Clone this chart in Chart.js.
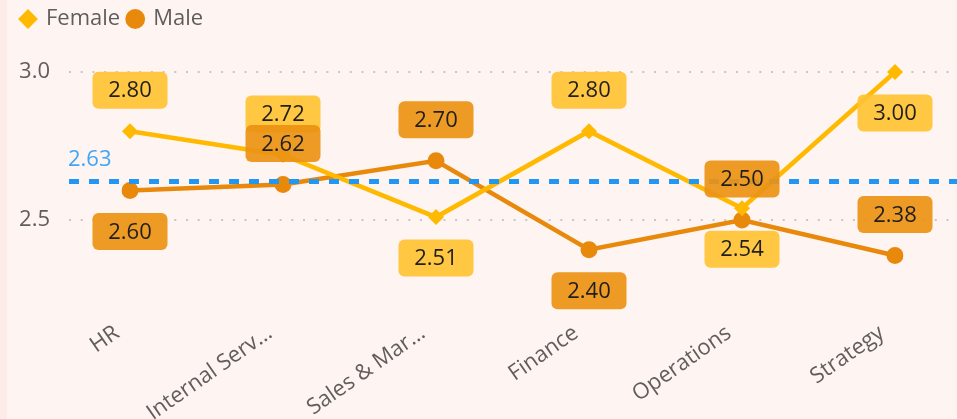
<!DOCTYPE html>
<html>
<head>
<meta charset="utf-8">
<script src="https://cdn.jsdelivr.net/npm/chart.js@4"></script>
<style>
  html, body { margin: 0; padding: 0; }
  body {
    width: 957px; height: 419px; overflow: hidden;
    background: linear-gradient(to right, #fdebe9 0, #fdebe9 7px, #fef4f2 7px);
  }
  #wrap { position: relative; width: 957px; height: 419px; }
</style>
</head>
<body>
<div id="wrap"><canvas id="chart"></canvas></div>
<script>
const categories = ['HR', 'Internal Services', 'Sales & Marketing', 'Finance', 'Operations', 'Strategy'];
const tickLabels = ['HR', 'Internal Serv…', 'Sales & Mar…', 'Finance', 'Operations', 'Strategy'];
const femaleValues = [2.80, 2.72, 2.51, 2.80, 2.54, 3.00];
const maleValues = [2.60, 2.62, 2.70, 2.40, 2.50, 2.38];
const yTicks = [2.5, 3.0];
const averageValue = 2.63;

// which side of its point each data label sits on
const femaleLabelSide = ['above', 'above', 'below', 'above', 'below', 'below'];
const maleLabelSide = ['below', 'above', 'above', 'below', 'above', 'above'];

const FONT = "'Segoe UI', 'Open Sans', sans-serif";
Chart.defaults.font.family = FONT;

function drawLabels(ctx, meta, values, sides, fill) {
    meta.data.forEach((pt, i) => {
        const cy = pt.y + (sides[i] === 'above' ? -41 : 41);
        ctx.fillStyle = fill;
        ctx.beginPath();
        ctx.roundRect(pt.x - 37.5, cy - 18.5, 75, 37, 6);
        ctx.fill();
        ctx.fillStyle = '#201f1e';
        ctx.fillText(values[i].toFixed(2), pt.x, cy + 1);
    });
}

const refPlugin = {
    id: 'refLines',
    beforeDatasetsDraw(chart) {
        // dotted gridlines run from the left gutter to the canvas edge
        const { ctx, scales: { y } } = chart;
        ctx.save();
        ctx.strokeStyle = '#c8c6c4';
        ctx.lineWidth = 2;
        ctx.setLineDash([2, 9.7]);
        yTicks.forEach(v => {
            const py = Math.round(y.getPixelForValue(v));
            ctx.beginPath();
            ctx.moveTo(69, py);
            ctx.lineTo(chart.width, py);
            ctx.stroke();
        });
        ctx.restore();
    },
    afterDatasetsDraw(chart) {
        const { ctx, scales: { y } } = chart;
        const py = y.getPixelForValue(averageValue);
        ctx.save();
        ctx.strokeStyle = '#2196f3';
        ctx.lineWidth = 5;
        ctx.setLineDash([10, 10]);
        ctx.beginPath();
        ctx.moveTo(69, py);
        ctx.lineTo(chart.width, py);
        ctx.stroke();
        ctx.setLineDash([]);
        ctx.font = '22px ' + FONT;
        ctx.fillStyle = '#42a5f5';
        ctx.textAlign = 'left';
        ctx.textBaseline = 'alphabetic';
        ctx.fillText(averageValue.toFixed(2), 68, py - 16);

        ctx.textAlign = 'center';
        ctx.textBaseline = 'middle';
        drawLabels(ctx, chart.getDatasetMeta(0), femaleValues, femaleLabelSide, 'rgba(255, 194, 51, 0.92)');
        drawLabels(ctx, chart.getDatasetMeta(1), maleValues, maleLabelSide, 'rgba(236, 146, 20, 0.92)');
        ctx.restore();
    }
};

new Chart(document.getElementById('chart'), {
    type: 'line',
    data: {
        labels: categories,
        datasets: [
            {
                label: 'Female', data: femaleValues,
                borderColor: '#ffb900', backgroundColor: '#ffb900',
                borderWidth: 4.6, pointStyle: 'rectRot', pointRadius: 8, pointBorderWidth: 0
            },
            {
                label: 'Male', data: maleValues,
                borderColor: '#e8890c', backgroundColor: '#e8890c',
                borderWidth: 4.6, pointStyle: 'circle', pointRadius: 8.5, pointBorderWidth: 0
            }
        ]
    },
    options: {
        responsive: true,
        maintainAspectRatio: false,
        animation: false,
        layout: { padding: { left: 13, right: 62, top: 0, bottom: 0 } },
        plugins: {
            legend: {
                position: 'top', align: 'start',
                labels: {
                    usePointStyle: true, boxWidth: 14, boxHeight: 14, padding: 8,
                    color: '#605e5c', font: { size: 22 }
                }
            },
            tooltip: { enabled: false }
        },
        scales: {
            x: {
                offset: false,
                grid: { display: false, drawTicks: false },
                border: { display: false },
                ticks: {
                    autoSkip: false, minRotation: 35, maxRotation: 35, padding: 20, labelOffset: -13,
                    color: '#605e5c', font: { size: 22 },
                    callback: (v, i) => tickLabels[i]
                },
                afterFit: s => { s.height = 119; }
            },
            y: {
                min: 2.23, max: 3.108,
                grid: { display: false, drawTicks: false },
                border: { display: false },
                afterBuildTicks: s => { s.ticks = yTicks.map(v => ({ value: v })); },
                afterFit: s => { s.width = 117; s.paddingTop = 0; s.paddingBottom = 0; },
                ticks: { padding: 80, color: '#605e5c', font: { size: 22 }, callback: v => v.toFixed(1) }
            }
        }
    },
    plugins: [refPlugin]
});
</script>
</body>
</html>
